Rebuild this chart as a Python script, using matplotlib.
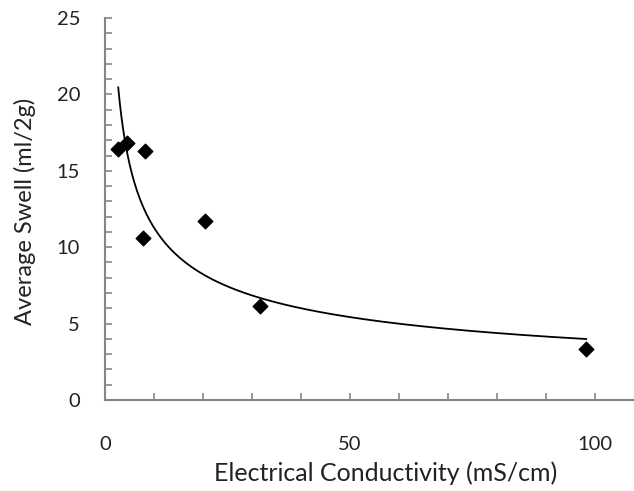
import numpy as np
import matplotlib
matplotlib.use('Agg')
import matplotlib.pyplot as plt
from matplotlib.ticker import MultipleLocator

# measured points
conductivity = [2.7, 4.4, 8.2, 7.7, 20.4, 31.6, 98.2]
swell = [16.4, 16.84, 16.3, 10.62, 11.71, 6.15, 3.32]

plt.rcParams['font.family'] = ['Lato', 'DejaVu Sans']

x = np.array(conductivity)
y = np.array(swell)

# power trendline y = a * x^b, fitted like Excel does (on logs)
b, ln_a = np.polyfit(np.log(x), np.log(y), 1)
xs = np.linspace(x.min(), x.max(), 300)
ys = np.exp(ln_a) * xs ** b

fig = plt.figure(figsize=(6.34, 4.91), dpi=100)
ax = fig.add_axes([105 / 634, 1 - 400 / 491, 562 / 634, 382 / 491])

ax.plot(xs, ys, color='black', lw=1.3)
ax.scatter(x, y, marker='D', s=55, color='black', zorder=3, clip_on=False)

ax.set_xlim(0, 114.7)
ax.set_ylim(0, 25)
ax.xaxis.set_major_locator(MultipleLocator(50))
ax.xaxis.set_minor_locator(MultipleLocator(10))
ax.yaxis.set_major_locator(MultipleLocator(5))
ax.yaxis.set_minor_locator(MultipleLocator(1))

for side in ['top', 'right']:
    ax.spines[side].set_visible(False)
for side in ['left', 'bottom']:
    ax.spines[side].set_color('#868686')
    ax.spines[side].set_linewidth(1.5)

ax.tick_params(which='both', direction='in', color='#868686', width=1.2,
               labelsize=14.5, labelcolor='#222222')
ax.tick_params(which='major', length=5, pad=18)
ax.tick_params(which='minor', length=5)
ax.tick_params(axis='x', which='major', pad=26)

ax.set_xlabel('Electrical Conductivity (mS/cm)', fontsize=18, color='#222222', va='center')
ax.set_ylabel('Average Swell (ml/2g)', fontsize=17, color='#222222', va='center')
ax.xaxis.set_label_coords(0.5, -0.191)
ax.yaxis.set_label_coords(-0.142, 0.493)

fig.savefig('out.png', dpi=100)
